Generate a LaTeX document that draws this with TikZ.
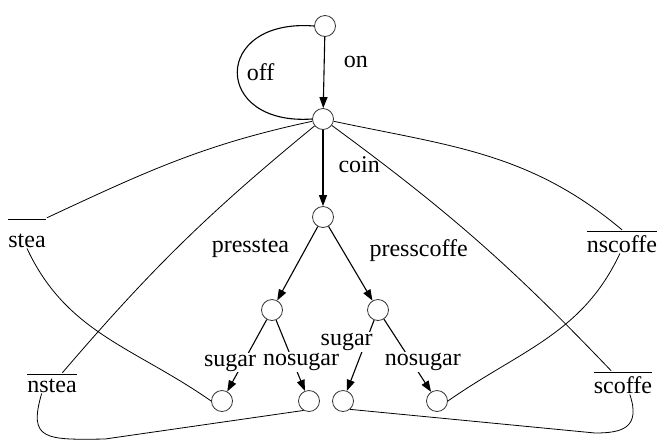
\documentclass[tikz,border=0pt]{standalone}
\usepackage{fontspec}
\setmainfont{Liberation Serif}
\usetikzlibrary{arrows.meta}
\newcommand{\ngt}[2]{$\overline{\mbox{\rule{0pt}{#1}#2}}$}
\tikzset{
	state/.style={circle, draw=black!80, line width=.8pt, minimum size=21pt, inner sep=0pt},
	lab/.style={inner sep=1pt},
	cover/.style={lab, fill=white},
	neg/.style={inner sep=1pt, anchor=base},
	trans/.style={->, line width=1.1pt},
	link/.style={line width=.8pt},
}

\begin{document}
\begin{tikzpicture}[x=1pt,y=-1pt,>={Triangle[length=11pt,width=8pt]}]
	\fontsize{24}{28}\selectfont
	\useasboundingbox (0,0) rectangle (660,440);
	% states
	\node[state] (q0) at (325,26) {};
	\node[state] (q1) at (323,119) {};
	\node[state] (q2) at (323,217) {};
	\node[state] (qt) at (272,310) {};
	\node[state] (qc) at (378,310) {};
	\node[state] (l1) at (222,401) {};
	\node[state] (l2) at (309,401) {};
	\node[state] (l3) at (343,401) {};
	\node[state] (l4) at (437,401) {};
	% negated events
	\node[neg] (stea) at (27,247) {\ngt{26pt}{stea}};
	\node[neg] (nscoffe) at (622,252) {\ngt{19pt}{nscoffe}};
	\node[neg] (nstea) at (52,392) {\ngt{16pt}{nstea}};
	\node[neg] (scoffe) at (623,393) {\ngt{19pt}{scoffe}};
	\coordinate (bl) at (105,439);
	\coordinate (br) at (595,433);
	% transitions
	\draw[trans] (q0) -- node[lab,pos=.35,right=18pt]{on} (q1);
	\draw[line width=1.1pt] (q0.west) .. controls (212,18) and (212,126) .. node[lab,pos=.5,right=8pt]{off} (q1.west);
	\draw[trans] (q1) -- node[lab,pos=.46,right=14pt]{coin} (q2);
	\draw[trans] (q2) -- node[lab,pos=.3,left=15pt]{presstea} (qt);
	\draw[trans] (q2) -- node[lab,pos=.33,right=25pt]{presscoffe} (qc);
	\draw[trans] (qt) -- node[cover,pos=.6,xshift=-13pt]{sugar} (l1);
	\draw[trans] (qt) -- node[cover,pos=.59,xshift=8pt]{nosugar} (l2);
	\draw[trans] (qc) -- node[cover,pos=.31,xshift=-19pt]{sugar} (l3);
	\draw[trans] (qc) -- node[cover,pos=.59,xshift=11pt]{nosugar} (l4);
	% links through the negated events
	\draw[link] (q1) to[out=192,in=25] (stea.north east);
	\draw[link] (stea.south) to[out=-65,in=145] (l1.west);
	\draw[link] (q1) to[out=-12,in=140] (nscoffe.north);
	\draw[link] (nscoffe.-100) to[out=-115,in=35] (l4.east);
	\draw[link] (q1) to[bend right=5] (nstea.45);
	\draw[link] (nstea.-135) .. controls (28,440) and (45,440) .. (bl) -- (l2.240);
	\draw[link] (q1) to[bend left=5] (scoffe.135);
	\draw[link] (scoffe.-60) .. controls (641,428) and (622,433) .. (br) -- (l3.-50);
\end{tikzpicture}
\end{document}
